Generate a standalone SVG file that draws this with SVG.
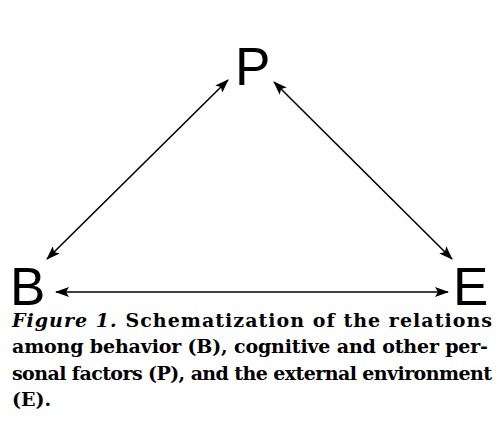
<svg xmlns="http://www.w3.org/2000/svg" width="504" height="435" viewBox="0 0 504 435">
<style>
.node{font-family:"Liberation Sans",Arial,sans-serif;font-size:53px;fill:#000}
.conn{stroke:#000;stroke-width:1.6;fill:none}
.cap{font-family:"DejaVu Serif",serif;font-weight:bold;font-size:19px;fill:#000}
</style>
<defs>
<marker id="ah" viewBox="0 0 14 10" refX="13" refY="5" markerWidth="14" markerHeight="10" markerUnits="userSpaceOnUse" orient="auto-start-reverse">
<path d="M0,0 L14,5 L0,10 L3,5 z" fill="#000"/>
</marker>
</defs>
<rect width="504" height="435" fill="#fff"/>
<g id="connectors">
<line class="conn" x1="47" y1="259" x2="228" y2="80" marker-start="url(#ah)" marker-end="url(#ah)"/>
<line class="conn" x1="274" y1="82" x2="452" y2="259" marker-start="url(#ah)" marker-end="url(#ah)"/>
<line class="conn" x1="56" y1="292" x2="448" y2="292" marker-start="url(#ah)" marker-end="url(#ah)"/>
</g>
<g id="node-P"><text class="node" x="235" y="85">P</text></g>
<g id="node-B"><text class="node" x="10" y="305">B</text></g>
<g id="node-E"><text class="node" x="453" y="305">E</text></g>
<g id="caption">
<text class="cap" x="12" y="327" textLength="480" lengthAdjust="spacing"><tspan font-style="italic">Figure 1.</tspan> Schematization of the relations</text>
<text class="cap" x="12" y="353" textLength="476" lengthAdjust="spacing">among behavior (B), cognitive and other per-</text>
<text class="cap" x="12" y="380" textLength="480" lengthAdjust="spacing">sonal factors (P), and the external environment</text>
<text class="cap" x="12" y="406">(E).</text>
</g>
</svg>
